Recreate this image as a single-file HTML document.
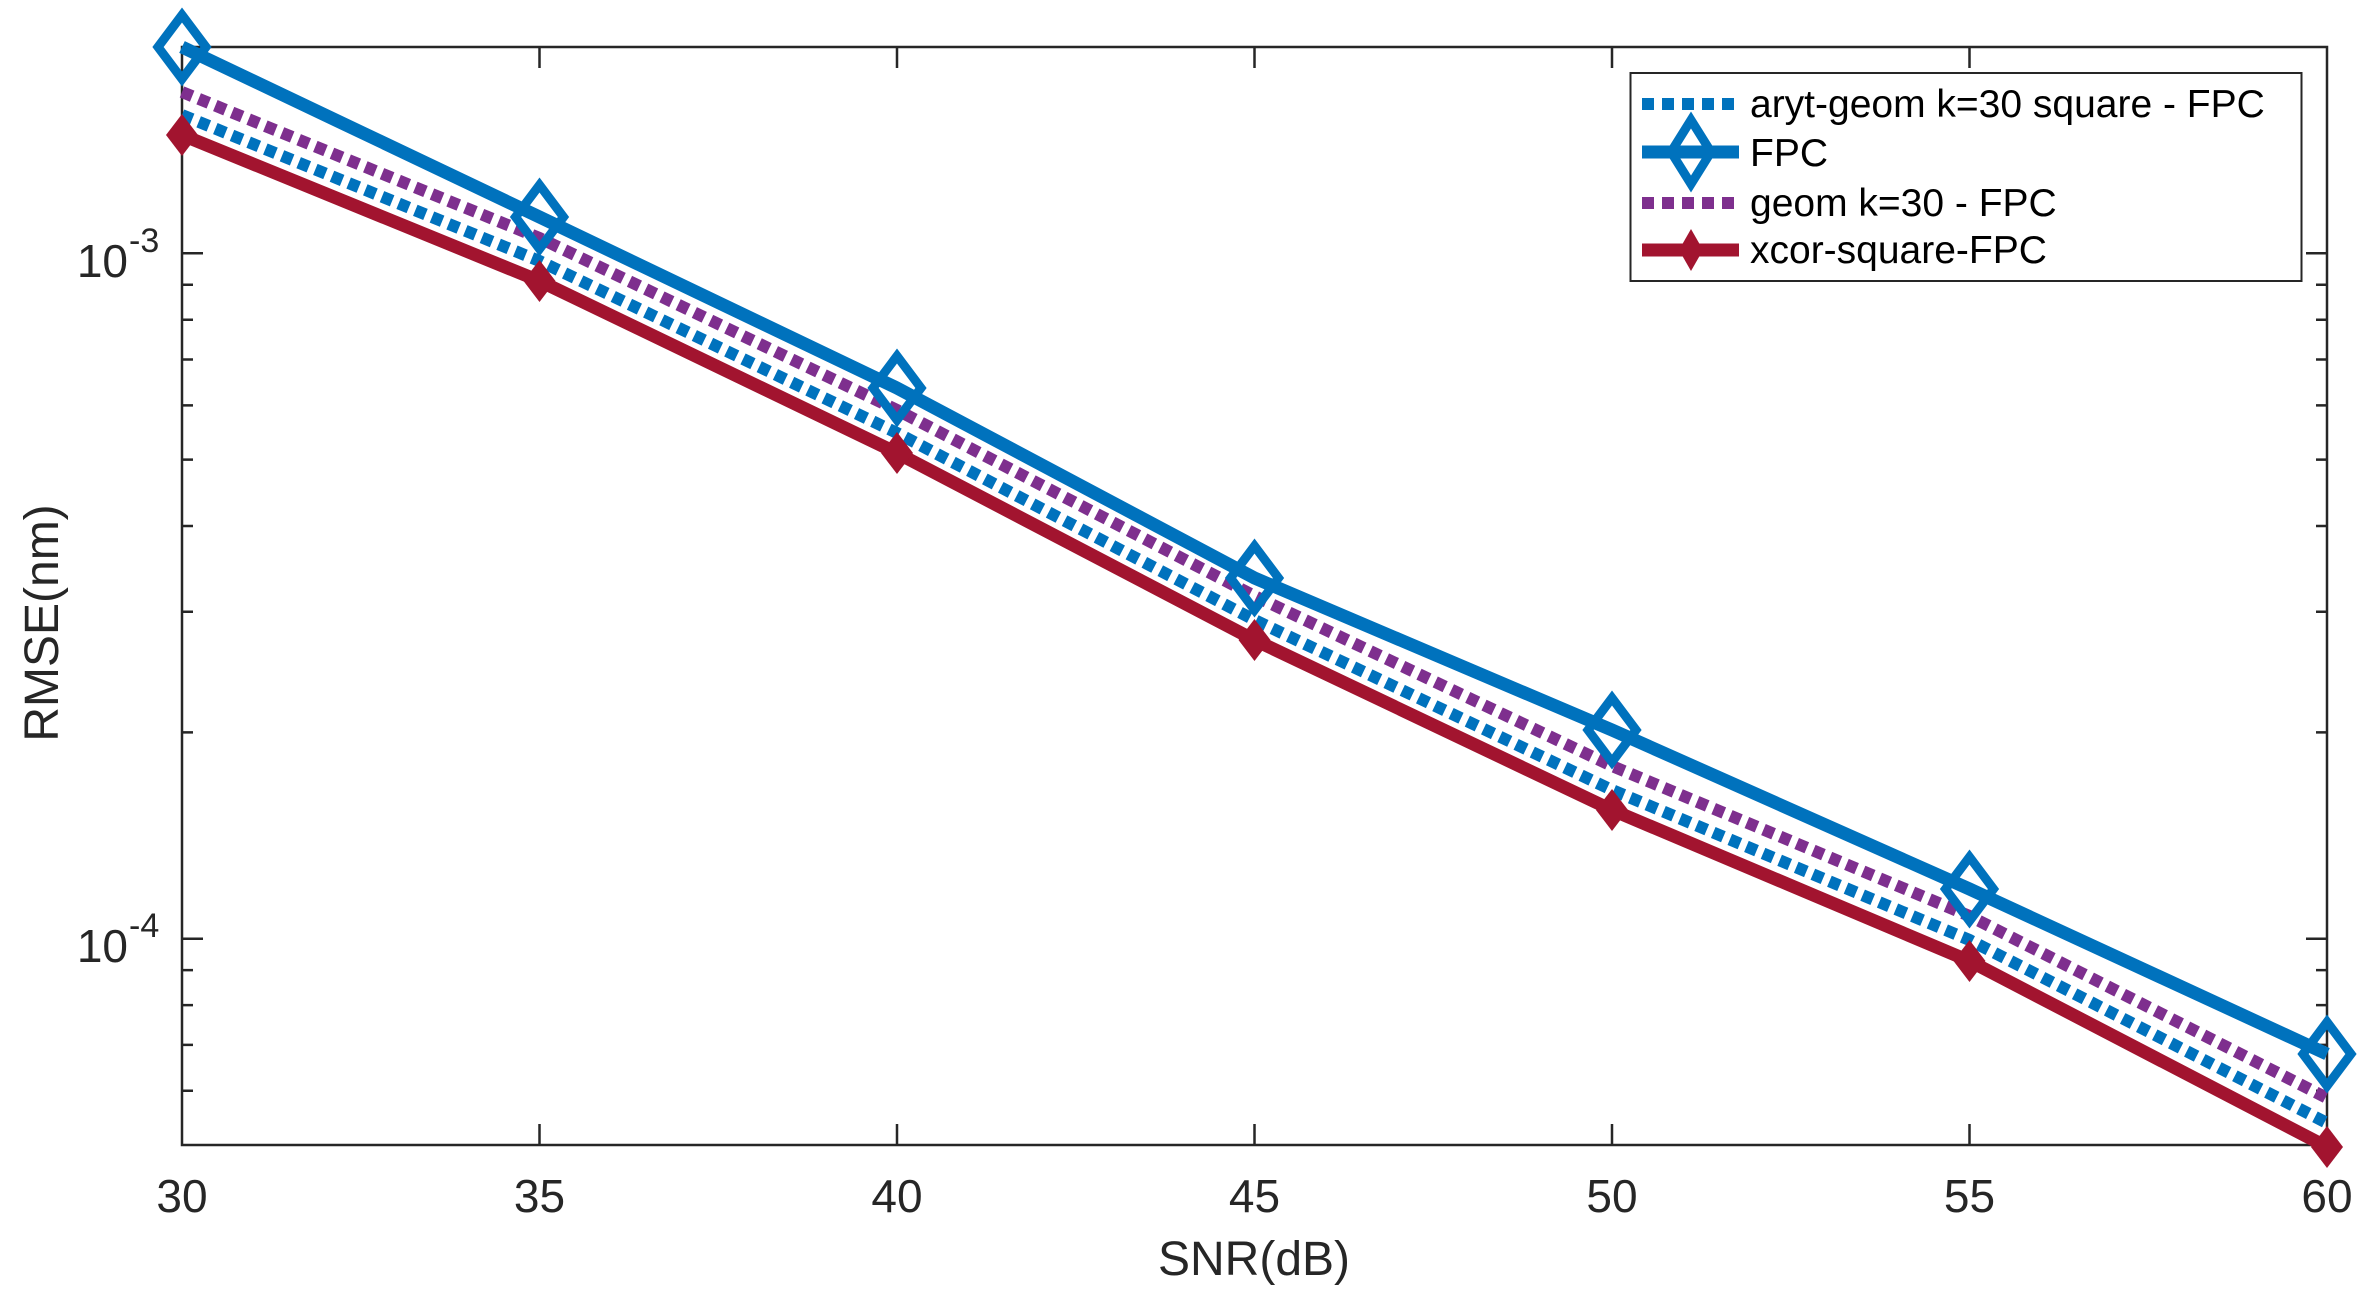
<!DOCTYPE html>
<html><head><meta charset="utf-8"><style>
html,body{margin:0;padding:0;background:#fff;}
svg{display:block;font-family:"Liberation Sans",Arial,sans-serif;}
</style></head><body>
<svg width="2371" height="1292" viewBox="0 0 2371 1292" xmlns="http://www.w3.org/2000/svg">
<rect width="2371" height="1292" fill="#fff"/>
<g stroke="#262626" stroke-width="2.5" fill="none">
<rect x="182" y="47" width="2145" height="1098"/>
<path d="M539.5,1145v-21M897,1145v-21M1254.5,1145v-21M1612,1145v-21M1969.5,1145v-21
M539.5,47v21M897,47v21M1254.5,47v21M1612,47v21M1969.5,47v21"/>
<path d="M182,253.3h21M182,938.7h21M2327,253.3h-21M2327,938.7h-21"/>
<path d="M182,732.4h11M182,611.7h11M182,526h11M182,459.6h11M182,405.4h11M182,359.5h11M182,319.7h11M182,284.7h11
M182,1090.7h11M182,1044.9h11M182,1005.1h11M182,970.1h11
M2327,732.4h-11M2327,611.7h-11M2327,526h-11M2327,459.6h-11M2327,405.4h-11M2327,359.5h-11M2327,319.7h-11M2327,284.7h-11
M2327,1090.7h-11M2327,1044.9h-11M2327,1005.1h-11M2327,970.1h-11"/>
</g>
<polyline fill="none" stroke="#7E2F8E" stroke-width="12" stroke-dasharray="11 7" points="182,92 539.5,238 897,410 1254.5,596 1612,766 1969.5,916 2327,1098"/>
<polyline fill="none" stroke="#0072BD" stroke-width="12" stroke-dasharray="11 7" points="182,115 539.5,261 897,433 1254.5,620 1612,790 1969.5,940 2327,1123"/>
<polyline fill="none" stroke="#0072BD" stroke-width="13" points="182,47 539.5,217 897,388 1254.5,578 1612,730 1969.5,889 2327,1054"/>
<polyline fill="none" stroke="#A2142F" stroke-width="13" points="182,135 539.5,281 897,453 1254.5,640 1612,810 1969.5,961 2327,1147"/>
<g fill="none" stroke="#0072BD" stroke-width="9">
<path d="M182,15l24,32l-24,32l-24,-32z"/>
<path d="M539.5,185l24,32l-24,32l-24,-32z"/>
<path d="M897,356l24,32l-24,32l-24,-32z"/>
<path d="M1254.5,546l24,32l-24,32l-24,-32z"/>
<path d="M1612,698l24,32l-24,32l-24,-32z"/>
<path d="M1969.5,857l24,32l-24,32l-24,-32z"/>
<path d="M2327,1022l24,32l-24,32l-24,-32z"/>
</g>
<g fill="#A2142F">
<path d="M182,114l16,21l-16,21l-16,-21z"/>
<path d="M539.5,260l16,21l-16,21l-16,-21z"/>
<path d="M897,432l16,21l-16,21l-16,-21z"/>
<path d="M1254.5,619l16,21l-16,21l-16,-21z"/>
<path d="M1612,789l16,21l-16,21l-16,-21z"/>
<path d="M1969.5,940l16,21l-16,21l-16,-21z"/>
<path d="M2327,1126l16,21l-16,21l-16,-21z"/>
</g>
<g fill="#262626" font-size="46" text-anchor="middle">
<text x="182" y="1212">30</text>
<text x="539.5" y="1212">35</text>
<text x="897" y="1212">40</text>
<text x="1254.5" y="1212">45</text>
<text x="1612" y="1212">50</text>
<text x="1969.5" y="1212">55</text>
<text x="2327" y="1212">60</text>
</g>
<g fill="#262626" font-size="46">
<text x="128" y="277" text-anchor="end">10</text>
<text x="129" y="252" font-size="34">-3</text>
<text x="128" y="962" text-anchor="end">10</text>
<text x="129" y="937" font-size="34">-4</text>
</g>
<text x="1254" y="1275" fill="#262626" font-size="48" text-anchor="middle">SNR(dB)</text>
<text transform="translate(58,623) rotate(-90)" fill="#262626" font-size="48" text-anchor="middle">RMSE(nm)</text>
<rect x="1630.5" y="73" width="671" height="208" fill="#fff" stroke="#262626" stroke-width="2"/>
<line x1="1642" y1="104" x2="1739" y2="104" stroke="#0072BD" stroke-width="12" stroke-dasharray="12 8"/>
<line x1="1642" y1="152" x2="1739" y2="152" stroke="#0072BD" stroke-width="13"/>
<path d="M1691,120l20,32l-20,32l-20,-32z" fill="none" stroke="#0072BD" stroke-width="9"/>
<line x1="1642" y1="203" x2="1739" y2="203" stroke="#7E2F8E" stroke-width="12" stroke-dasharray="12 8"/>
<line x1="1642" y1="250" x2="1739" y2="250" stroke="#A2142F" stroke-width="13"/>
<path d="M1691,229l12,21l-12,21l-12,-21z" fill="#A2142F"/>
<g font-size="39" fill="#000">
<text x="1750" y="117">aryt-geom k=30 square - FPC</text>
<text x="1750" y="166">FPC</text>
<text x="1750" y="216">geom k=30 - FPC</text>
<text x="1750" y="263">xcor-square-FPC</text>
</g>
</svg>
</body></html>
